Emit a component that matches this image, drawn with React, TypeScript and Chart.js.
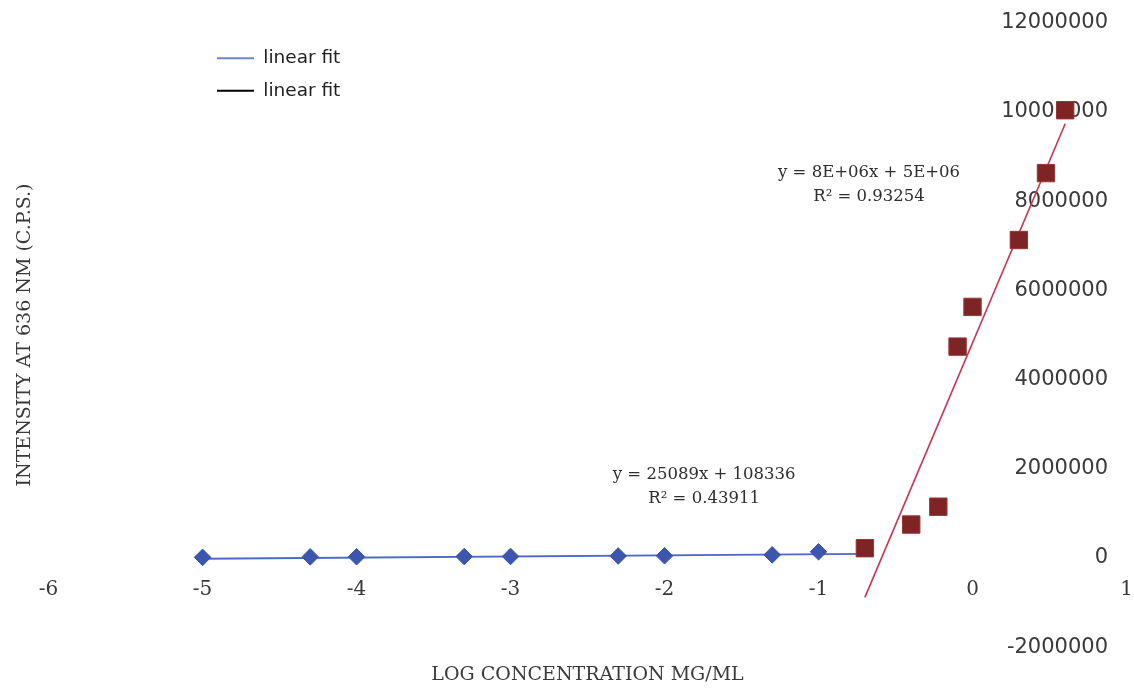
import React, { useEffect, useRef } from 'react';
import { Chart, registerables } from 'chart.js';

Chart.register(...registerables);

// ---- data ----
const X_TICKS = [-6, -5, -4, -3, -2, -1, 0, 1];
const Y_TICKS = [-2000000, 0, 2000000, 4000000, 6000000, 8000000, 10000000, 12000000];

const BLUE_X = [-5, -4.301, -4, -3.301, -3, -2.301, -2, -1.301, -1];
const BLUE_Y = [15000, 25000, 28000, 32000, 35000, 45000, 50000, 70000, 140000];

const RED_X = [-0.699, -0.398, -0.222, -0.097, 0, 0.301, 0.477, 0.602];
const RED_Y = [220000, 750000, 1150000, 4740000, 5630000, 7130000, 8630000, 10040000];

// Blue trendline as printed on the chart, forecast forward 0.3 units
const BLUE_FIT_SLOPE = 25089;
const BLUE_FIT_INTERCEPT = 108336;
const BLUE_FIT_FORWARD = 0.3;

const LEGEND_LABELS = ['linear fit', 'linear fit'];
const LEGEND_COLORS = ['#6f84d2', '#000000'];

const EQ_BLUE_LINES = ['y = 25089x + 108336', 'R\u00b2 = 0.43911'];
const EQ_RED_LINES = ['y = 8E+06x + 5E+06', 'R\u00b2 = 0.93254'];

const X_TITLE = 'LOG CONCENTRATION MG/ML';
const Y_TITLE = 'INTENSITY AT 636 NM (C.P.S.)';

// ---- styling / layout ----
const BLUE_POINT = '#3c55ad';
const BLUE_LINE = '#4d68c6';
const RED_POINT = '#7e2424';
const RED_POINT_BORDER = '#963636';
const RED_LINE = '#c6354f';
const TEXT = '#3a3a3a';

const EQ_ANCHORS = [
  { x: -1.743, y: 1600000, lines: EQ_BLUE_LINES },
  { x: -0.672, y: 8370000, lines: EQ_RED_LINES },
];
const LEGEND_POS = { left: 203, top: 35 };

function linreg(xs: number[], ys: number[]) {
  const n = xs.length;
  const mx = xs.reduce((a, b) => a + b, 0) / n;
  const my = ys.reduce((a, b) => a + b, 0) / n;
  let sxy = 0, sxx = 0;
  for (let i = 0; i < n; i++) {
    sxy += (xs[i] - mx) * (ys[i] - my);
    sxx += (xs[i] - mx) ** 2;
  }
  const slope = sxy / sxx;
  return { slope, intercept: my - slope * mx };
}

const equationsPlugin = {
  id: 'equations',
  afterDatasetsDraw(chart: any) {
    const { ctx, scales } = chart;
    const sx = scales.x, sy = scales.y;
    ctx.save();
    ctx.font = '16.5px "DejaVu Serif"';
    ctx.fillStyle = '#2e2e2e';
    ctx.textAlign = 'center';
    ctx.textBaseline = 'middle';
    EQ_ANCHORS.forEach((eq) => {
      const px = sx.getPixelForValue(eq.x);
      const py = sy.getPixelForValue(eq.y);
      eq.lines.forEach((t, i) => {
        ctx.fillText(t, px, py + (i - (eq.lines.length - 1) / 2) * 24.5);
      });
    });
    ctx.restore();
  },
};

const legendPlacementPlugin = {
  id: 'legendPlacement',
  afterLayout(chart: any) {
    const lg = chart.legend;
    if (!lg) return;
    const w = lg.width, h = lg.height;
    lg.left = LEGEND_POS.left;
    lg.top = LEGEND_POS.top;
    lg.right = lg.left + w;
    lg.bottom = lg.top + h;
  },
};

export default function App() {
  const ref = useRef<HTMLCanvasElement | null>(null);

  useEffect(() => {
    if (!ref.current) return;
    const blueStart = Math.min(...BLUE_X);
    const blueEnd = Math.max(...BLUE_X) + BLUE_FIT_FORWARD;
    const redFit = linreg(RED_X, RED_Y);
    const redStart = Math.min(...RED_X);
    const redEnd = Math.max(...RED_X);

    const chart = new Chart(ref.current, {
      type: 'scatter',
      data: {
        datasets: [
          {
            label: 'blue',
            data: BLUE_X.map((x, i) => ({ x, y: BLUE_Y[i] })),
            pointStyle: 'rectRot',
            pointRadius: 8.3,
            backgroundColor: BLUE_POINT,
            borderColor: BLUE_POINT,
            borderWidth: 1,
            order: 0,
          },
          {
            label: 'red',
            data: RED_X.map((x, i) => ({ x, y: RED_Y[i] })),
            pointStyle: 'rect',
            pointRadius: 12.3,
            backgroundColor: RED_POINT,
            borderColor: RED_POINT_BORDER,
            borderWidth: 1,
            order: 0,
          },
          {
            label: 'linear fit',
            data: [blueStart, blueEnd].map((x) => ({ x, y: BLUE_FIT_SLOPE * x + BLUE_FIT_INTERCEPT })),
            showLine: true,
            pointRadius: 0,
            borderColor: BLUE_LINE,
            backgroundColor: BLUE_LINE,
            borderWidth: 1.8,
            order: 1,
          },
          {
            label: 'linear fit',
            data: [redStart, redEnd].map((x) => ({ x, y: redFit.slope * x + redFit.intercept })),
            showLine: true,
            pointRadius: 0,
            borderColor: RED_LINE,
            backgroundColor: RED_LINE,
            borderWidth: 1.6,
            order: 1,
          },
        ],
      },
      options: {
        animation: false,
        responsive: true,
        maintainAspectRatio: false,
        layout: { autoPadding: false, padding: { top: 22.8, right: 7.5, bottom: 0, left: 14 } },
        plugins: {
          tooltip: { enabled: false },
          legend: {
            position: 'chartArea',
            align: 'start',
            labels: {
              boxWidth: 37,
              boxHeight: 2,
              padding: 14,
              color: '#222222',
              font: { family: 'DejaVu Sans', size: 18.5 },
              generateLabels: () =>
                LEGEND_LABELS.map((text, i) => ({
                  text,
                  fillStyle: LEGEND_COLORS[i],
                  strokeStyle: LEGEND_COLORS[i],
                  lineWidth: 0,
                  hidden: false,
                  datasetIndex: i + 2,
                  fontColor: '#222222',
                })),
            },
          },
        },
        scales: {
          x: {
            type: 'linear',
            min: -6,
            max: 1,
            position: { y: 0 },
            afterBuildTicks: (s: any) => { s.ticks = X_TICKS.map((value) => ({ value })); },
            grid: { display: false, drawTicks: true, tickLength: 20 },
            border: { display: false },
            ticks: {
              autoSkip: false,
              maxRotation: 0,
              padding: 0,
              color: TEXT,
              font: { family: 'DejaVu Serif', size: 20 },
              callback: (v: any) => String(v),
            },
          },
          y: {
            type: 'linear',
            min: -2000000,
            max: 12000000,
            position: { x: 0.88 },
            afterBuildTicks: (s: any) => { s.ticks = Y_TICKS.map((value) => ({ value })); },
            grid: { display: false, drawTicks: false },
            border: { display: false },
            ticks: {
              autoSkip: false,
              padding: 0,
              color: TEXT,
              font: { family: 'DejaVu Sans', size: 21 },
              callback: (v: any) => String(v),
            },
          },
          xTitle: {
            type: 'linear',
            axis: 'x',
            min: -6,
            max: 1,
            position: 'bottom',
            grid: { display: false, drawTicks: false },
            border: { display: false },
            ticks: { display: false },
            title: {
              display: true,
              text: X_TITLE,
              color: TEXT,
              font: { family: 'DejaVu Serif', size: 19 },
              padding: { top: 16.4, bottom: 5.6 },
            },
          },
          yTitle: {
            type: 'linear',
            axis: 'y',
            min: -2000000,
            max: 12000000,
            position: 'left',
            grid: { display: false, drawTicks: false },
            border: { display: false },
            ticks: { display: false },
            title: {
              display: true,
              text: Y_TITLE,
              color: TEXT,
              font: { family: 'DejaVu Serif', size: 19 },
              padding: { top: 0, bottom: 11.8 },
            },
          },
        },
      },
      plugins: [equationsPlugin, legendPlacementPlugin],
    });
    return () => chart.destroy();
  }, []);

  return (
    <div style={{ position: 'fixed', left: 0, top: 0, width: 1134, height: 692 }}>
      <canvas ref={ref} />
    </div>
  );
}
